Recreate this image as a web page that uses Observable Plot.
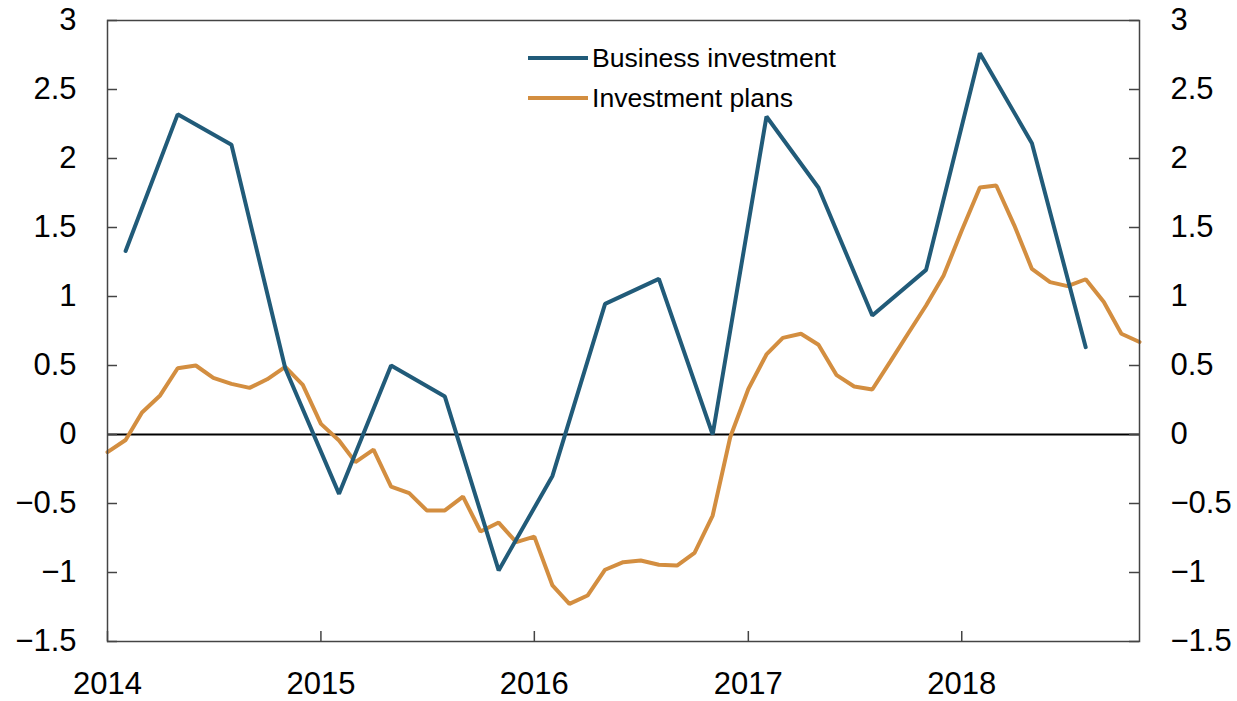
<!DOCTYPE html>
<html>
<head>
<meta charset="utf-8">
<script src="https://cdn.jsdelivr.net/npm/d3@7"></script>
<script src="https://cdn.jsdelivr.net/npm/@observablehq/plot@0.6"></script>
<style>
  html, body { margin: 0; padding: 0; background: #fff; }
  #wrap { position: relative; width: 1237px; height: 701px; font-family: "Liberation Sans", Arial, Helvetica, sans-serif; }
  #legend { position: absolute; left: 528px; top: 38px; font-size: 26.6px; color: #000; }
  .row { display: flex; align-items: center; height: 40px; }
  .sw { width: 60px; height: 4px; margin-right: 4px; }
</style>
</head>
<body>
<div id="wrap"></div>
<script>
// Business investment (quarterly, plotted at mid-quarter month)
const bizDates = ["2014-02-01","2014-05-01","2014-08-01","2014-11-01",
                  "2015-02-01","2015-05-01","2015-08-01","2015-11-01",
                  "2016-02-01","2016-05-01","2016-08-01","2016-11-01",
                  "2017-02-01","2017-05-01","2017-08-01","2017-11-01",
                  "2018-02-01","2018-05-01","2018-08-01"];
const bizValues = [1.33, 2.32, 2.10, 0.48,
                   -0.43, 0.50, 0.275, -0.985,
                   -0.30, 0.947, 1.128, 0.0,
                   2.304, 1.788, 0.862, 1.193,
                   2.763, 2.111, 0.633];

// Investment plans (monthly, Jan 2014 – Nov 2018)
const planStart = "2014-01-01";
const planValues = [-0.128, -0.04, 0.16, 0.283, 0.48, 0.50, 0.41, 0.367, 0.338, 0.40, 0.49, 0.36,
                    0.077, -0.043, -0.20, -0.11, -0.377, -0.425, -0.55, -0.55, -0.45, -0.703, -0.638, -0.78,
                    -0.74, -1.094, -1.227, -1.167, -0.98, -0.925, -0.913, -0.944, -0.95, -0.857, -0.587, -0.02,
                    0.33, 0.58, 0.70, 0.73, 0.65, 0.43, 0.348, 0.326, 0.53, 0.73, 0.935, 1.152,
                    1.478, 1.79, 1.804, 1.514, 1.20, 1.104, 1.075, 1.125, 0.96, 0.73, 0.67];

const yTicks = [-1.5, -1, -0.5, 0, 0.5, 1, 1.5, 2, 2.5, 3];
const xTickLabels = ["2014", "2015", "2016", "2017", "2018"];
const seriesNames = ["Business investment", "Investment plans"];
const colors = ["#215b79", "#d38e40"];

const bizData = bizDates.map((d, i) => ({date: new Date(d), value: bizValues[i]}));
const planMonths = d3.utcMonth.range(new Date(planStart), d3.utcMonth.offset(new Date(planStart), planValues.length));
const planData = planValues.map((v, i) => ({date: planMonths[i], value: v}));
const xTicks = xTickLabels.map(y => new Date(y + "-01-01"));
const xDomain = [new Date(planStart), planMonths[planMonths.length - 1]];

const W = 1237, H = 701, mL = 107, mR = 98, mT = 20, mB = 60;
const fmt = d => (d < 0 ? "\u2212" : "") + Math.abs(d);

const chart = Plot.plot({
  width: W, height: H,
  marginLeft: mL, marginRight: mR, marginTop: mT, marginBottom: mB,
  style: {fontFamily: "'Liberation Sans', Arial, Helvetica, sans-serif", fontSize: "31px", color: "#000", background: "#fff"},
  x: {type: "utc", domain: xDomain, label: null},
  y: {domain: [-1.5, 3], label: null},
  marks: [
    Plot.ruleY([0], {stroke: "#000", strokeWidth: 2}),
    Plot.line(planData, {x: "date", y: "value", stroke: colors[1], strokeWidth: 4, strokeLinejoin: "miter"}),
    Plot.line(bizData, {x: "date", y: "value", stroke: colors[0], strokeWidth: 4, strokeLinejoin: "miter"}),
    Plot.frame({stroke: "#444", strokeWidth: 1.5}),
    Plot.ruleY(yTicks, {stroke: "#444", strokeWidth: 1.5, insetRight: W - mL - mR - 10}),
    Plot.ruleY(yTicks, {stroke: "#444", strokeWidth: 1.5, insetLeft: W - mL - mR - 10}),
    Plot.ruleX(xTicks, {stroke: "#444", strokeWidth: 1.5, insetTop: H - mT - mB - 10}),
    Plot.axisY({anchor: "left", ticks: yTicks, tickSize: 0, tickPadding: 31, tickFormat: fmt, label: null, fontSize: 31}),
    Plot.axisY({anchor: "right", ticks: yTicks, tickSize: 0, tickPadding: 31, tickFormat: fmt, label: null, fontSize: 31}),
    Plot.axisX({ticks: xTicks, tickSize: 0, tickPadding: 30, tickFormat: (d, i) => xTickLabels[i], label: null, fontSize: 31})
  ]
});

const wrap = document.getElementById("wrap");
wrap.appendChild(chart);

const legend = document.createElement("div");
legend.id = "legend";
seriesNames.forEach((name, i) => {
  const row = document.createElement("div");
  row.className = "row";
  const sw = document.createElement("div");
  sw.className = "sw";
  sw.style.background = colors[i];
  const t = document.createElement("span");
  t.textContent = name;
  row.appendChild(sw);
  row.appendChild(t);
  legend.appendChild(row);
});
wrap.appendChild(legend);
</script>
</body>
</html>
